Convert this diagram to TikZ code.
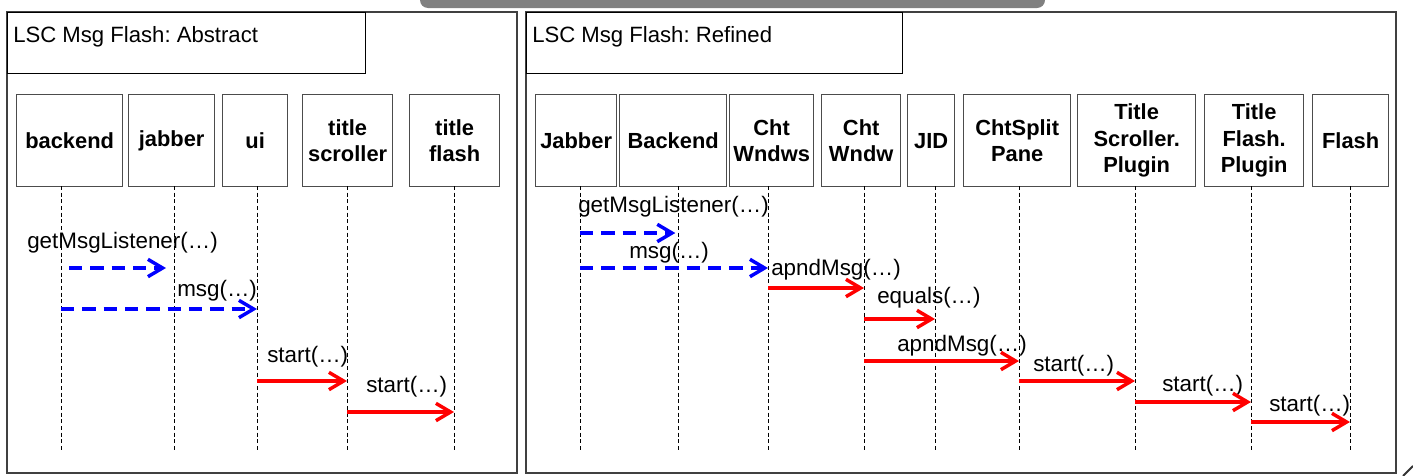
\documentclass[tikz,border=0pt]{standalone}
\usepackage{fontspec}
\setmainfont{Liberation Sans}
\frenchspacing
\usetikzlibrary{arrows.meta}
\begin{document}
\begin{tikzpicture}[x=0.75pt,y=-0.75pt,
  frame/.style={draw=black!75,line width=1.2pt},
  titlebox/.style={draw=black,line width=0.8pt},
  obj/.style={draw=black!70,line width=1pt,minimum height=69pt,inner sep=0pt,
     font=\fontsize{16.4}{20}\selectfont\bfseries,align=center,anchor=north west},
  life/.style={draw=black,line width=0.6pt,dash pattern=on 3pt off 2pt},
  lbl/.style={font=\fontsize{16.8}{19}\selectfont,anchor=west,inner sep=0pt},
  ttl/.style={font=\fontsize{16.6}{19}\selectfont,anchor=west,inner sep=0pt},
  msgA/.style={draw=blue,line width=2.6pt,dash pattern=on 10pt off 6pt,
     -{Straight Barb[length=11pt,width=13pt,line width=2.6pt]}},
  msgR/.style={draw=red,line width=2.6pt,
     -{Straight Barb[length=11pt,width=13pt,line width=2.6pt]}}]
\useasboundingbox (0,0) rectangle (1413,475);
% top gray bar
\fill[black!50,rounded corners=6pt] (420,-12) rectangle (1045,8);
% corner artifact
\draw[black!80,line width=1.5pt] (1403,476) -- (1413,466);
% frames
\draw[frame] (7,12) rectangle (517,473);
\draw[frame] (526,12) rectangle (1396,473);
\node[titlebox,minimum width=268.5pt,minimum height=45.75pt,anchor=north west,inner sep=0pt] (t1) at (7,12) {};
\node[ttl] (t1t) at (13,37) {LSC Msg Flash: Abstract};
\node[titlebox,minimum width=282pt,minimum height=45.75pt,anchor=north west,inner sep=0pt] (t2) at (526,12) {};
\node[ttl] (t2t) at (532,37) {LSC Msg Flash: Refined};
% left objects
\node[obj,minimum width=79.5pt] (backend) at (16,94) {backend};
\node[obj,minimum width=64.5pt] (jabber) at (128,94) {jabber};
\node[obj,minimum width=48.75pt] (ui) at (222,94) {ui};
\node[obj,minimum width=67.5pt] (tscr) at (302,94) {title\\scroller};
\node[obj,minimum width=67.5pt] (tfl) at (409,94) {title\\flash};
% right objects
\node[obj,minimum width=60.75pt] (Jab) at (535,94) {Jabber};
\node[obj,minimum width=80.25pt] (Back) at (619,94) {Backend};
\node[obj,minimum width=63pt] (CWs) at (729,94) {Cht\\Wndws};
\node[obj,minimum width=59.25pt] (CW) at (821,94) {Cht\\Wndw};
\node[obj,minimum width=35.25pt] (JID) at (907,94) {JID};
\node[obj,minimum width=80.25pt] (CSP) at (963,94) {ChtSplit\\Pane};
\node[obj,minimum width=88.5pt] (TSP) at (1077,94) {Title\\Scroller.\\Plugin};
\node[obj,minimum width=74.25pt] (TFP) at (1204,94) {Title\\Flash.\\Plugin};
\node[obj,minimum width=57pt] (Fl) at (1312,94) {Flash};
% lifelines
\foreach \n/\x in {backend/61,jabber/174,ui/257,tscr/347,tfl/454,Jab/580,Back/678,CWs/768,CW/864,JID/935,CSP/1019,TSP/1135,TFP/1251,Fl/1350}{
  \coordinate (\n-top) at (\x,186);
  \coordinate (\n-bot) at (\x,450);
  \draw[life] (\n-top) -- (\n-bot);
}
% left messages
\node[lbl] (l1) at (27,243) {getMsgListener(…)};
\draw[msgA] ([xshift=6pt]backend-top |- 0,268) -- ([xshift=-6pt]jabber-top |- 0,268);
\node[lbl] (l2) at (177,291) {msg(…)};
\draw[msgA] (backend-top |- 0,309) -- (ui-top |- 0,309);
\node[lbl] (l3) at (267,357) {start(…)};
\draw[msgR] (ui-top |- 0,381) -- (tscr-top |- 0,381);
\node[lbl] (l4) at (366,387) {start(…)};
\draw[msgR] (tscr-top |- 0,412) -- (tfl-top |- 0,412);
% right messages
\node[lbl] (r1) at (578,207) {getMsgListener(…)};
\draw[msgA] (Jab-top |- 0,233) -- ([xshift=-2pt]Back-top |- 0,233);
\node[lbl] (r2) at (629,253) {msg(…)};
\draw[msgA] (Jab-top |- 0,268) -- (CWs-top |- 0,268);
\node[lbl] (r3) at (771,270) {apndMsg(…)};
\draw[msgR] (CWs-top |- 0,288) -- (CW-top |- 0,288);
\node[lbl] (r4) at (877,298) {equals(…)};
\draw[msgR] (CW-top |- 0,319) -- (JID-top |- 0,319);
\node[lbl] (r5) at (897,346) {apndMsg(…)};
\draw[msgR] (CW-top |- 0,361) -- (CSP-top |- 0,361);
\node[lbl] (r6) at (1033,366) {start(…)};
\draw[msgR] (CSP-top |- 0,381) -- (TSP-top |- 0,381);
\node[lbl] (r7) at (1162,386) {start(…)};
\draw[msgR] (TSP-top |- 0,402) -- (TFP-top |- 0,402);
\node[lbl] (r8) at (1269,406) {start(…)};
\draw[msgR] (TFP-top |- 0,422) -- (Fl-top |- 0,422);
\end{tikzpicture}
\end{document}
